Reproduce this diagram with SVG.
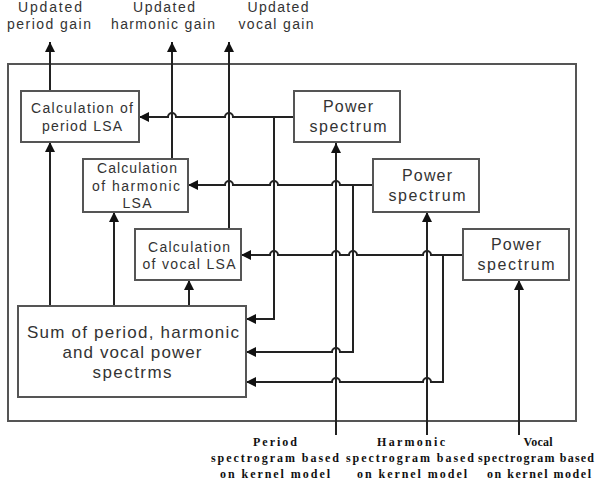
<svg xmlns="http://www.w3.org/2000/svg" width="596" height="489" viewBox="0 0 596 489">
<style>
.box{fill:#fff;stroke:#555;stroke-width:2}
.t{font-family:"Liberation Sans",Arial,sans-serif;fill:#333;text-anchor:middle}
.c{font-size:14px}
.p{font-size:16px}
.s{font-size:17px}
.top{font-size:14px}
.bt{font-family:"Liberation Serif","Times New Roman",serif;font-weight:bold;font-size:12px;fill:#111;text-anchor:middle}
.ln{fill:none;stroke:#222;stroke-width:2}
</style>
<defs>
<marker id="ah" markerUnits="userSpaceOnUse" markerWidth="10" markerHeight="10" refX="10" refY="5" orient="auto">
<path d="M0,0 L10,5 L0,10 z" fill="#111"/>
</marker>
</defs>
<rect id="frame" x="8" y="64" width="568" height="357" fill="none" stroke="#555" stroke-width="2"/>
<g id="labels-top">
<text class="t top" x="50" y="12" textLength="64" lengthAdjust="spacing">Updated</text>
<text class="t top" x="49" y="29" textLength="84" lengthAdjust="spacing">period gain</text>
<text class="t top" x="164" y="12" textLength="62" lengthAdjust="spacing">Updated</text>
<text class="t top" x="163" y="29" textLength="104" lengthAdjust="spacing">harmonic gain</text>
<text class="t top" x="278" y="12" textLength="61" lengthAdjust="spacing">Updated</text>
<text class="t top" x="276" y="29" textLength="75" lengthAdjust="spacing">vocal gain</text>
</g>
<g id="connectors">
<path class="ln" marker-end="url(#ah)" d="M50,91 V42"/>
<path class="ln" marker-end="url(#ah)" d="M172,159 V42"/>
<path class="ln" marker-end="url(#ah)" d="M229,229 V42"/>
<path class="ln" marker-end="url(#ah)" d="M50,306 V142"/>
<path class="ln" marker-end="url(#ah)" d="M114,306 V212"/>
<path class="ln" marker-end="url(#ah)" d="M189,306 V280"/>
<path class="ln" marker-end="url(#ah)" d="M336,435 V143"/>
<path class="ln" marker-end="url(#ah)" d="M427,435 V212"/>
<path class="ln" marker-end="url(#ah)" d="M519,435 V280"/>
<path class="ln" marker-end="url(#ah)" d="M294,117 H233 A4,4 0 0 0 225,117 H176 A4,4 0 0 0 168,117 H139"/>
<path class="ln" marker-end="url(#ah)" d="M274,117 V319 H246"/>
<path class="ln" marker-end="url(#ah)" d="M373,185 H340 A4,4 0 0 0 332,185 H278 A4,4 0 0 0 270,185 H233 A4,4 0 0 0 225,185 H188"/>
<path class="ln" marker-end="url(#ah)" d="M353,185 V352 H340 A4,4 0 0 0 332,352 H246"/>
<path class="ln" marker-end="url(#ah)" d="M463,255 H431 A4,4 0 0 0 423,255 H357 A4,4 0 0 0 349,255 H340 A4,4 0 0 0 332,255 H278 A4,4 0 0 0 270,255 H241"/>
<path class="ln" marker-end="url(#ah)" d="M443,255 V382 H431 A4,4 0 0 0 423,382 H340 A4,4 0 0 0 332,382 H246"/>
</g>
<g id="calc-period">
<rect class="box" x="21" y="91" width="118" height="51"/>
<text class="t c" x="82" y="113" textLength="102" lengthAdjust="spacing">Calculation of</text>
<text class="t c" x="82" y="131" textLength="80" lengthAdjust="spacing">period LSA</text>
</g>
<g id="calc-harmonic">
<rect class="box" x="83" y="159" width="105" height="53"/>
<text class="t c" x="137" y="173" textLength="80" lengthAdjust="spacing">Calculation</text>
<text class="t c" x="136" y="191" textLength="88" lengthAdjust="spacing">of harmonic</text>
<text class="t c" x="137" y="208" textLength="29" lengthAdjust="spacing">LSA</text>
</g>
<g id="calc-vocal">
<rect class="box" x="135" y="229" width="106" height="51"/>
<text class="t c" x="189" y="252" textLength="82" lengthAdjust="spacing">Calculation</text>
<text class="t c" x="189" y="269" textLength="93" lengthAdjust="spacing">of vocal LSA</text>
</g>
<g id="sum">
<rect class="box" x="18" y="306" width="228" height="91"/>
<text class="t s" x="133" y="338" textLength="212" lengthAdjust="spacing">Sum of period, harmonic</text>
<text class="t s" x="132" y="358" textLength="139" lengthAdjust="spacing">and vocal power</text>
<text class="t s" x="132" y="378" textLength="79" lengthAdjust="spacing">spectrms</text>
</g>
<g id="ps-period">
<rect class="box" x="294" y="91" width="106" height="51"/>
<text class="t p" x="348" y="112" textLength="50" lengthAdjust="spacing">Power</text>
<text class="t p" x="348" y="132" textLength="77" lengthAdjust="spacing">spectrum</text>
</g>
<g id="ps-harmonic">
<rect class="box" x="373" y="159" width="106" height="53"/>
<text class="t p" x="427" y="181" textLength="50" lengthAdjust="spacing">Power</text>
<text class="t p" x="427" y="201" textLength="77" lengthAdjust="spacing">spectrum</text>
</g>
<g id="ps-vocal">
<rect class="box" x="463" y="229" width="106" height="51"/>
<text class="t p" x="516" y="250" textLength="50" lengthAdjust="spacing">Power</text>
<text class="t p" x="516" y="270" textLength="77" lengthAdjust="spacing">spectrum</text>
</g>
<g id="labels-bottom">
<text class="bt" x="275" y="446" textLength="44" lengthAdjust="spacing">Period</text>
<text class="bt" x="275" y="462" textLength="128" lengthAdjust="spacing">spectrogram based</text>
<text class="bt" x="275" y="478" textLength="110" lengthAdjust="spacing">on kernel model</text>
<text class="bt" x="411" y="446" textLength="68" lengthAdjust="spacing">Harmonic</text>
<text class="bt" x="410" y="462" textLength="128" lengthAdjust="spacing">spectrogram based</text>
<text class="bt" x="412" y="478" textLength="110" lengthAdjust="spacing">on kernel model</text>
<text class="bt" x="538" y="446" textLength="29" lengthAdjust="spacing">Vocal</text>
<text class="bt" x="536" y="462" textLength="116" lengthAdjust="spacing">spectrogram based</text>
<text class="bt" x="539" y="478" textLength="104" lengthAdjust="spacing">on kernel model</text>
</g>
</svg>
